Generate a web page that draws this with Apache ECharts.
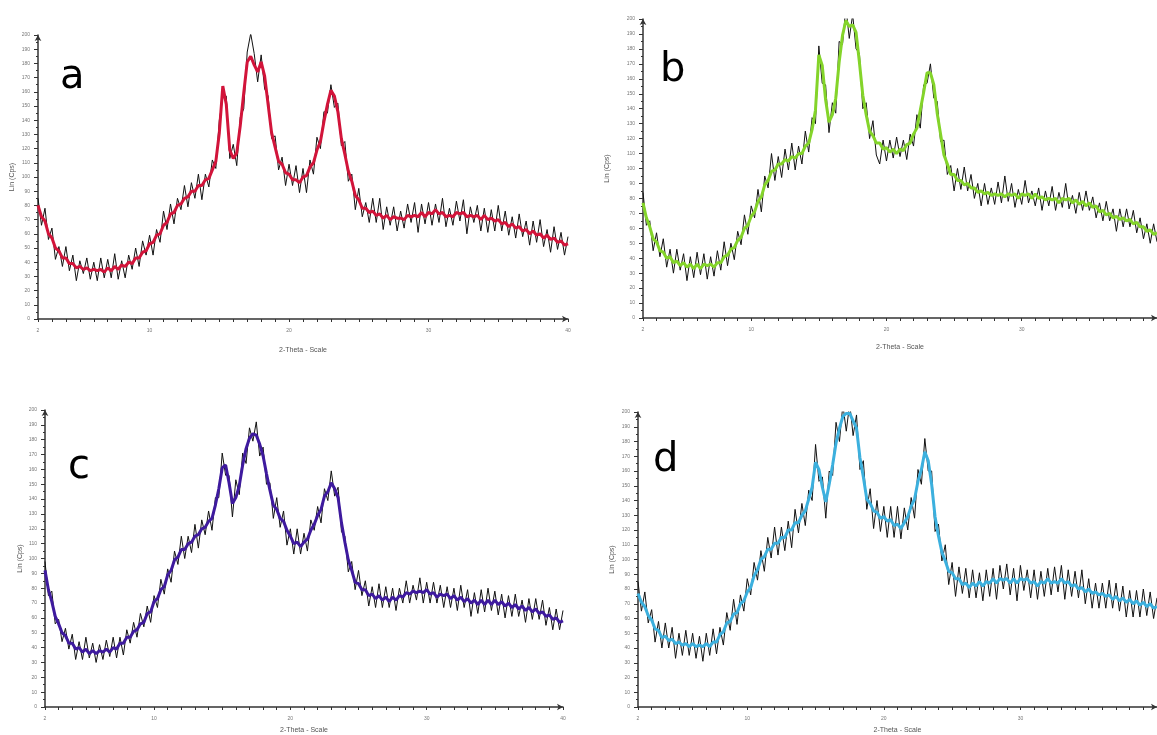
<!DOCTYPE html>
<html><head><meta charset="utf-8">
<script src="https://cdn.jsdelivr.net/npm/echarts@6/dist/echarts.min.js"></script>
<style>html,body{margin:0;padding:0;background:#fff}#c{width:1157px;height:735px}</style>
</head><body><div id="c"></div>
<script>
// 2-Theta sampling of the arrays below
const thetaStart = 2, thetaStep = 0.25;
const xTickLabels = [2, 10, 20, 30, 40];
const yTickStep = 10;

// panel a (coloured trace) - one row of 4 samples per degree
const aTrace = [
 80,72,69,60, 57,50,48,43, 43,39,39,36, 37,35,36,34, 35,34,35,33,
 36,34,37,35, 38,37,40,39, 43,43,47,48, 53,54,59,60, 66,68,74,75,
 80,81,85,86, 90,90,94,94, 98,99,105,111, 131,164,151,119, 113,117,136,159,
 181,185,179,174, 181,171,151,131, 121,111,109,103, 102,98,98,96, 100,101,107,110,
 119,125,139,151, 161,157,146,127, 116,104,97,87, 84,78,78,75, 76,73,74,71,
 73,70,72,71, 71,70,73,72, 73,72,75,72, 75,74,77,74, 75,72,73,72,
 75,74,75,72, 73,72,73,70, 73,70,71,69, 70,67,68,65, 67,64,65,62,
 63,60,62,59, 60,57,59,56, 57,54,55,52, 53];
// panel a raw-counts deviation from the trace (black)
const aNoise = [
 5,-6,9,-4,7,-8,3,-6,8,-5,6,-9,4,-3,7,-6,5,
 -7,8,-4,6,-5,9,-7,3,-8,5,-4,7,-6,8,-3,6,-9,
 4,-6,10,-5,7,-8,5,-4,9,-7,6,-5,8,-10,4,-6,7,
 -5,9,-8,6,-6,10,-9,6,-11,7,16,8,-7,5,-9,6,-4,
 8,-6,5,-9,7,-4,10,-7,6,-12,5,-8,9,-5,7,-6,4,
 -8,6,-5,9,-7,5,-10,8,-6,4,-7,9,-5,11,-8,6,-4,
 7,-9,5,-6,8,-4,9,-11,6,-5,7,-8,4,-6,10,-7,5,
 -6,8,-5,9,-12,6,-4,7,-8,5,-9,6,-7,10,-5,8,-6,
 5,-7,9,-4,6,-8,7,-5,10,-6,4,-9,8,-5,6,-7,5];

const bTrace = [
 77,67,61,53, 51,45,44,40, 41,37,38,35, 37,34,36,33, 36,33,36,35,
 36,34,37,37, 41,42,46,47, 52,54,60,62, 68,71,78,81, 89,92,98,99,
 103,103,106,105, 108,107,110,110, 115,117,126,139, 176,169,146,131, 136,147,171,189,
 199,195,196,191, 171,149,136,125, 122,117,117,113, 114,111,113,110, 113,112,116,117,
 123,127,139,151, 164,164,156,137, 123,109,103,96, 96,92,92,89, 90,87,87,84,
 85,83,84,82, 83,82,83,81, 83,82,83,80, 83,82,83,80, 83,80,81,79,
 80,79,80,77, 80,79,80,77, 79,76,78,75, 77,74,75,71, 72,69,70,67,
 68,66,67,65, 66,63,64,61, 61,58,59,56, 57];
const bNoise = [
 7,-5,4,-8,6,-4,9,-6,5,-7,8,-3,6,-9,5,-6,8,
 -4,7,-9,5,-6,8,-5,10,-7,4,-8,6,-5,9,-6,7,-4,
 8,-10,6,-5,12,-7,5,-9,7,-6,9,-8,5,-7,10,-6,8,
 -9,6,-12,10,-7,8,-10,14,-6,9,-8,7,-11,6,-9,8,-5,
 10,-8,-14,6,-9,8,-6,11,-5,7,-10,6,-8,9,-12,5,-7,
 6,-9,8,-5,10,-7,6,-11,8,-6,12,-5,9,-7,6,-10,7,
 -8,5,-7,9,-6,14,-5,8,-9,6,-7,10,-6,5,-8,7,-9,
 6,-5,9,-8,7,-6,11,-7,5,-9,8,-6,10,-5,7,-8,6,
 -7,9,-5,6,-10,7,-6,8,-5,9,-7,6,-8,5,-9,7,-6];

const cTrace = [
 92,79,71,61, 56,50,48,43, 43,39,40,37, 39,36,38,36, 38,37,39,37,
 40,39,43,43, 47,47,51,52, 56,57,63,64, 71,73,79,81, 89,92,99,101,
 106,106,110,111, 115,116,120,121, 125,127,136,147, 161,163,151,137, 141,149,163,174,
 181,184,183,177, 169,157,146,136, 133,127,125,119, 115,110,111,108, 111,113,119,123,
 129,133,142,145, 151,147,141,124, 111,99,92,84, 83,79,79,75, 76,73,75,72,
 74,71,74,72, 75,74,77,76, 78,77,78,77, 79,76,77,74, 76,75,76,73,
 75,72,74,71, 73,70,72,69, 72,69,72,69, 72,69,71,68, 70,67,69,66,
 68,65,67,64, 66,63,64,61, 62,59,60,57, 58];
const cNoise = [
 6,-4,7,-5,3,-6,5,-4,6,-7,4,-5,8,-3,5,-6,4,
 -5,6,-3,7,-6,4,-8,5,-4,6,-5,7,-3,5,-7,4,-6,
 7,-5,4,-8,6,-5,9,-6,5,-7,8,-9,6,-5,7,-8,5,
 -6,10,-7,5,-9,12,-6,8,-10,7,-5,9,-8,6,-7,5,-9,
 8,-6,7,-10,5,-7,9,-5,6,-8,7,-4,6,-9,5,-6,8,
 -5,7,-6,4,-8,6,-5,9,-4,6,-7,5,-6,8,-5,7,-4,
 6,-7,5,-4,8,-6,4,-5,9,-7,5,-6,7,-4,6,-8,5,
 -6,5,-7,8,-4,6,-9,5,-6,7,-5,8,-4,6,-7,5,-8,
 5,-6,7,-5,4,-8,6,-5,7,-4,8,-6,5,-7,6,-5,7];

const dTrace = [
 77,71,68,62, 59,53,52,47, 48,45,46,43, 44,42,43,41, 43,41,42,41,
 43,41,44,44, 49,51,57,58, 63,64,70,72, 78,81,89,93, 100,102,107,107,
 111,111,115,115, 120,120,125,125, 130,133,141,149, 166,161,149,139, 151,164,179,189,
 197,199,199,194, 189,169,156,141, 138,133,132,128, 129,126,127,123, 124,121,125,129,
 136,141,153,161, 173,167,151,129, 116,105,99,92, 91,87,87,83, 84,81,84,82,
 85,82,85,84, 87,84,87,86, 87,84,87,84, 87,86,87,84, 85,82,85,84,
 87,84,85,84, 87,84,85,82, 83,80,81,78, 80,77,78,76, 77,75,76,73,
 75,72,74,71, 73,70,72,69, 71,68,70,67, 68];
const dNoise = [
 8,-6,10,-5,7,-9,6,-7,9,-5,8,-10,6,-7,9,-6,7,
 -8,6,-10,7,-6,9,-8,5,-9,7,-6,10,-8,6,-7,9,-5,
 9,-7,6,-10,8,-6,11,-8,7,-9,6,-12,9,-7,8,-10,6,
 -9,12,-8,7,-11,9,-7,14,-9,8,-12,7,-10,9,-8,11,-7,
 10,-12,8,-9,7,-11,9,-8,12,-7,10,-9,6,-13,8,-10,9,
 -7,9,-10,8,-6,11,-9,7,-12,8,-6,10,-7,9,-8,6,-10,
 8,-9,7,-11,9,-6,10,-8,7,-12,9,-7,6,-10,8,-9,7,
 -9,7,-8,10,-6,9,-11,8,-7,9,-6,12,-8,7,-10,6,-9,
 7,-8,10,-6,9,-7,8,-10,6,-9,7,-8,9,-6,8,-7,6];

const panelLetters = ['a', 'b', 'c', 'd'];
const traces = [aTrace, bTrace, cTrace, dTrace];
const noises = [aNoise, bNoise, cNoise, dNoise];
const traceColors = ['#d2143a', '#84d42a', '#3e1a9e', '#3cb0de'];

const layout = [
  {grid: {left: 38, right: 589, top: 35, bottom: 416}, yGap: 22, xGap: 28, cut: false, letter: [72, 88]},
  {grid: {left: 643, right: -8, top: 19, bottom: 417}, yGap: 32, xGap: 26, cut: true, letter: [672, 81]},
  {grid: {left: 45, right: 594, top: 410, bottom: 25}, yGap: 21, xGap: 20, cut: false, letter: [80, 478]},
  {grid: {left: 638, right: -8, top: 412, bottom: 28}, yGap: 22, xGap: 20, cut: true, letter: [665, 471]}
];

const chart = echarts.init(document.getElementById('c'), null, {renderer: 'canvas'});
const grids = [], xAxes = [], yAxes = [], series = [], graphics = [];
const axisCol = '#333';
const lblStyle = {fontSize: 5, color: '#777', fontFamily: 'Liberation Sans, Arial, sans-serif'};
const nameStyle = {fontSize: 7, color: '#555', fontFamily: 'Liberation Sans, Arial, sans-serif'};

layout.forEach((L, k) => {
  grids.push(Object.assign({containLabel: false}, L.grid));
  xAxes.push({
    type: 'value', gridIndex: k, min: thetaStart, max: 40, interval: 1,
    name: '2-Theta - Scale', nameLocation: 'middle', nameGap: L.xGap, nameTextStyle: nameStyle,
    axisLine: {show: true, onZero: false, lineStyle: {color: axisCol, width: 1.5},
      symbol: ['none', 'arrow'], symbolSize: [5, 6]},
    axisTick: {show: true, length: 3, inside: false, lineStyle: {color: axisCol}},
    axisLabel: Object.assign({margin: 9, showMaxLabel: !L.cut,
      formatter: v => xTickLabels.indexOf(Math.round(v)) >= 0 ? String(Math.round(v)) : ''}, lblStyle),
    splitLine: {show: false}
  });
  yAxes.push({
    type: 'value', gridIndex: k, min: 0, max: 200, interval: yTickStep,
    name: 'Lin (Cps)', nameLocation: 'middle', nameGap: L.yGap, nameRotate: 90, nameTextStyle: nameStyle,
    axisLine: {show: true, lineStyle: {color: axisCol, width: 1.5}, symbol: ['none', 'arrow'], symbolSize: [5, 6]},
    axisTick: {show: true, length: 4, lineStyle: {color: axisCol}},
    minorTick: {show: true, splitNumber: 2, length: 2, lineStyle: {color: axisCol}},
    axisLabel: Object.assign({margin: 8}, lblStyle),
    splitLine: {show: false}
  });
  const tr = traces[k], nz = noises[k];
  const colorData = tr.map((v, i) => [thetaStart + i * thetaStep, v]);
  const rawData = tr.map((v, i) => [thetaStart + i * thetaStep, v + nz[i]]);
  series.push({
    type: 'line', xAxisIndex: k, yAxisIndex: k, data: rawData, showSymbol: false, silent: true,
    lineStyle: {color: '#111', width: 1}, z: 2, animation: false
  });
  series.push({
    type: 'line', xAxisIndex: k, yAxisIndex: k, data: colorData, showSymbol: false, silent: true,
    lineStyle: {color: traceColors[k], width: 3}, z: 3, animation: false
  });
  graphics.push({
    type: 'text', left: L.letter[0] - 12, top: L.letter[1] - 30, z: 10,
    style: {text: panelLetters[k], fontSize: 40, fill: '#000', fontFamily: 'DejaVu Sans, sans-serif'}
  });
});

chart.setOption({
  animation: false,
  backgroundColor: '#fff',
  grid: grids, xAxis: xAxes, yAxis: yAxes, series: series, graphic: graphics
});
</script></body></html>
